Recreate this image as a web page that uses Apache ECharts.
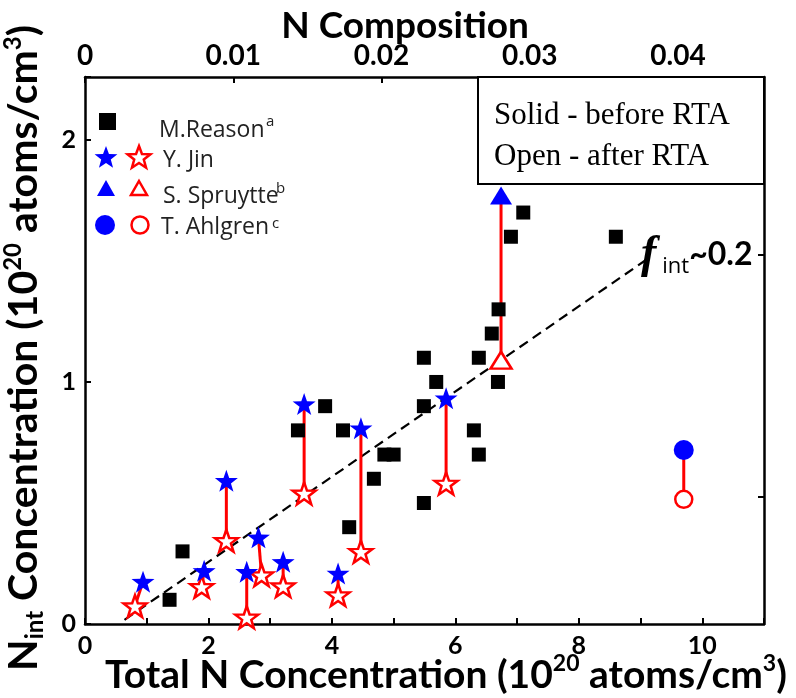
<!DOCTYPE html>
<html><head><meta charset="utf-8">
<script src="https://cdn.jsdelivr.net/npm/echarts@6/dist/echarts.min.js"></script>
<style>html,body{margin:0;padding:0;background:#fff}#c{width:796px;height:698px}</style>
</head><body><div id="c"></div>
<script>
// ---- data (10^20 atoms/cm^3) ----
const reasonX = [1.37, 1.58, 3.45, 3.89, 4.18, 4.28, 4.68, 4.85, 5.00, 5.49, 5.49, 5.49, 5.69, 6.30, 6.38, 6.38, 6.59, 6.69, 6.70, 6.90, 7.10, 8.60];
const reasonY = [0.10, 0.30, 0.80, 0.90, 0.80, 0.40, 0.60, 0.70, 0.70, 0.50, 0.90, 1.10, 1.00, 0.80, 0.70, 1.10, 1.20, 1.00, 1.30, 1.60, 1.70, 1.60];
const jinBeforeX = [0.94, 1.93, 2.29, 2.62, 2.81, 3.21, 3.55, 4.10, 4.47, 5.85];
const jinBeforeY = [0.175, 0.22, 0.592, 0.216, 0.358, 0.257, 0.909, 0.209, 0.809, 0.933];
const jinAfterX  = [0.81, 1.89, 2.29, 2.62, 2.86, 3.21, 3.55, 4.10, 4.47, 5.85];
const jinAfterY  = [0.074, 0.154, 0.344, 0.028, 0.202, 0.157, 0.540, 0.120, 0.299, 0.581];
const spruytteBeforeX = [6.74], spruytteBeforeY = [1.77];
const spruytteAfterX  = [6.74], spruytteAfterY  = [1.09];
const ahlgrenBeforeX = [9.70], ahlgrenBeforeY = [0.719];
const ahlgrenAfterX  = [9.70], ahlgrenAfterY  = [0.515];
const fitX = [0.64, 9.15], fitY = [0.017, 1.515];
const bottomTicks = [0, 2, 4, 6, 8, 10];
const topTicks = [0, 0.01, 0.02, 0.03, 0.04];
const leftTicks = [0, 1, 2];
const rightTicks = [0.525, 1.525];

const zip = (a, b) => a.map((v, i) => [v, b[i]]);
const STAR = 'path://M0,-10L2.35,-3.24L9.51,-3.09L3.8,1.24L5.88,8.09L0,4L-5.88,8.09L-3.8,1.24L-9.51,-3.09L-2.35,-3.24Z';
const RED = '#ff0000', BLUE = '#0000ff';
const FONT = 'Lato';

const series = [];
series.push({type:'line', data: zip(fitX, fitY), symbol:'none', z:1,
  lineStyle:{color:'#000', width:2.2, type:[10,6]}});
function addPairs(bx, by, ax, ay){
  bx.forEach((x, i) => series.push({type:'line', data:[[x, by[i]], [ax[i], ay[i]]], symbol:'none', z:2,
    lineStyle:{color:RED, width:3}}));
}
addPairs(jinBeforeX, jinBeforeY, jinAfterX, jinAfterY);
addPairs(spruytteBeforeX, spruytteBeforeY, spruytteAfterX, spruytteAfterY);
addPairs(ahlgrenBeforeX, ahlgrenBeforeY, ahlgrenAfterX, ahlgrenAfterY);
const solid = c => ({color:c, opacity:1});
const open = {color:'#fff', borderColor:RED, borderWidth:2.5, opacity:1};
series.push({type:'scatter', name:'M.Reason', data: zip(reasonX, reasonY), symbol:'rect', symbolSize:14, z:3, itemStyle:solid('#000')});
series.push({type:'scatter', data: zip(jinAfterX, jinAfterY), symbol:STAR, symbolSize:[23,22], z:4, itemStyle:open});
series.push({type:'scatter', data: zip(jinBeforeX, jinBeforeY), symbol:STAR, symbolSize:[23,22], z:5, itemStyle:solid(BLUE)});
series.push({type:'scatter', data: zip(spruytteAfterX, spruytteAfterY), symbol:'triangle', symbolSize:[21,17], z:4, itemStyle:open});
series.push({type:'scatter', data: zip(spruytteBeforeX, spruytteBeforeY), symbol:'triangle', symbolSize:[22,18], z:5, itemStyle:solid(BLUE)});
series.push({type:'scatter', data: zip(ahlgrenAfterX, ahlgrenAfterY), symbol:'circle', symbolSize:17, z:4, itemStyle:open});
series.push({type:'scatter', data: zip(ahlgrenBeforeX, ahlgrenBeforeY), symbol:'circle', symbolSize:20, z:5, itemStyle:solid(BLUE)});

function starPts(cx, cy, R){
  const r = R*0.42, p = [];
  for (let k = 0; k < 10; k++){
    const a = -Math.PI/2 + k*Math.PI/5, rr = k%2 ? r : R;
    p.push([cx + rr*Math.cos(a), cy + rr*Math.sin(a)]);
  }
  return p;
}
const legText = {fontFamily:'Open Sans', fontSize:23, fill:'#222', verticalAlign:'middle'};
const supText = {fontFamily:'Open Sans', fontSize:15, fill:'#222', verticalAlign:'middle'};
const graphic = [
  // legend
  {type:'rect', shape:{x:99, y:113, width:17, height:17}, style:{fill:'#000'}},
  {type:'text', x:159, y:130, style:Object.assign({text:'M.Reason'}, legText)},
  {type:'text', x:266, y:122, style:Object.assign({text:'a'}, supText)},
  {type:'polygon', shape:{points:starPts(106,158,12)}, style:{fill:BLUE}},
  {type:'polygon', shape:{points:starPts(139,158,12)}, style:{fill:'#fff', stroke:RED, lineWidth:2.5}},
  {type:'text', x:163, y:160, style:Object.assign({text:'Y. Jin'}, legText)},
  {type:'polygon', shape:{points:[[106,180],[115,196],[97,196]]}, style:{fill:BLUE}},
  {type:'polygon', shape:{points:[[139,181],[147,195],[131,195]]}, style:{fill:'#fff', stroke:RED, lineWidth:2.5}},
  {type:'text', x:163, y:196, style:Object.assign({text:'S. Spruytte'}, legText)},
  {type:'text', x:276, y:189, style:Object.assign({text:'b'}, supText)},
  {type:'circle', shape:{cx:105, cy:225, r:10}, style:{fill:BLUE}},
  {type:'circle', shape:{cx:140, cy:225, r:8.5}, style:{fill:'#fff', stroke:RED, lineWidth:2.5}},
  {type:'text', x:161, y:227, style:Object.assign({text:'T. Ahlgren'}, legText)},
  {type:'text', x:272, y:224, style:Object.assign({text:'c'}, supText)},
  // note box
  {type:'rect', shape:{x:478, y:77, width:286, height:107}, style:{fill:'#fff', stroke:'#000', lineWidth:2}, z:10},
  {type:'text', x:494, y:116, z:11, style:{text:'Solid - before RTA', fontFamily:'Liberation Serif', fontSize:31, fill:'#000', verticalAlign:'middle'}},
  {type:'text', x:494, y:157, z:11, style:{text:'Open - after RTA', fontFamily:'Liberation Serif', fontSize:31, fill:'#000', verticalAlign:'middle'}},
  // f_int annotation
  {type:'text', x:641, y:255, z:11, style:{
    text:'{f|f}{i|int}{n|~0.2}', verticalAlign:'middle',
    rich:{
      f:{fontFamily:'Liberation Serif', fontStyle:'italic', fontWeight:'bold', fontSize:46, fill:'#000', lineHeight:46},
      i:{fontFamily:'Open Sans', fontSize:22, fill:'#000', verticalAlign:'bottom', lineHeight:46, padding:[0,0,0,6]},
      n:{fontFamily:FONT, fontWeight:'bold', fontSize:32, fill:'#000', lineHeight:46}
    }}},
  // titles
  {type:'text', x:405, y:26, style:{text:'N Composition', fontFamily:FONT, fontWeight:'bold', fontSize:37, fill:'#000', align:'center', verticalAlign:'middle'}},
  {type:'text', x:446, y:675, style:{
    text:'{b|Total N Concentration (10}{s|20}{b| atoms/cm}{s|3}{b|)}', align:'center', verticalAlign:'middle',
    rich:{
      b:{fontFamily:FONT, fontWeight:'bold', fontSize:39, fill:'#000', lineHeight:46},
      s:{fontFamily:FONT, fontWeight:'bold', fontSize:23, fill:'#000', verticalAlign:'top', lineHeight:46}
    }}},
  {type:'text', x:24, y:348, rotation:Math.PI/2, style:{
    text:'{b|N}{i|int}{b| Concentration (10}{s|20}{b| atoms/cm}{s|3}{b|)}', align:'center', verticalAlign:'middle',
    rich:{
      b:{fontFamily:FONT, fontWeight:'bold', fontSize:41, fill:'#000', lineHeight:46},
      i:{fontFamily:FONT, fontWeight:'bold', fontSize:24, fill:'#000', verticalAlign:'bottom', lineHeight:46},
      s:{fontFamily:FONT, fontWeight:'bold', fontSize:24, fill:'#000', verticalAlign:'top', lineHeight:46}
    }}}
];

const axisLine = {show:true, onZero:false, lineStyle:{color:'#000', width:2.5}};
const tickStyle = {inside:true, length:6, lineStyle:{color:'#000', width:2}};
const labStyle = {color:'#000', fontFamily:FONT, fontWeight:'bold', fontSize:25};
const has = (arr, v) => arr.some(t => Math.abs(t - v) < 1e-9);

const option = {
  animation:false,
  grid:{left:85, right:32, top:77, bottom:74},
  xAxis:[
    {type:'value', position:'bottom', min:0, max:11, interval:1, axisLine, axisTick:tickStyle, splitLine:{show:false},
      axisLabel:Object.assign({margin:9, formatter:v => has(bottomTicks, v) ? String(v) : ''}, labStyle)},
    {type:'value', position:'top', min:0, max:0.0458, interval:0.01, axisLine, axisTick:tickStyle, splitLine:{show:false},
      axisLabel:Object.assign({margin:7, formatter:v => has(topTicks, v) ? (v === 0 ? '0' : v.toFixed(2)) : ''}, labStyle, {fontSize:28})}
  ],
  yAxis:[
    {type:'value', position:'left', min:0, max:2.26, interval:1, axisLine, axisTick:tickStyle, splitLine:{show:false},
      axisLabel:Object.assign({margin:9, formatter:v => has(leftTicks, v) ? String(v) : ''}, labStyle)},
    {type:'value', position:'right', min:0, max:2.26, axisLine, splitLine:{show:false}, axisLabel:{show:false},
      axisTick:Object.assign({customValues:rightTicks}, tickStyle)}
  ],
  series,
  graphic
};
echarts.init(document.getElementById('c')).setOption(option);
</script></body></html>
